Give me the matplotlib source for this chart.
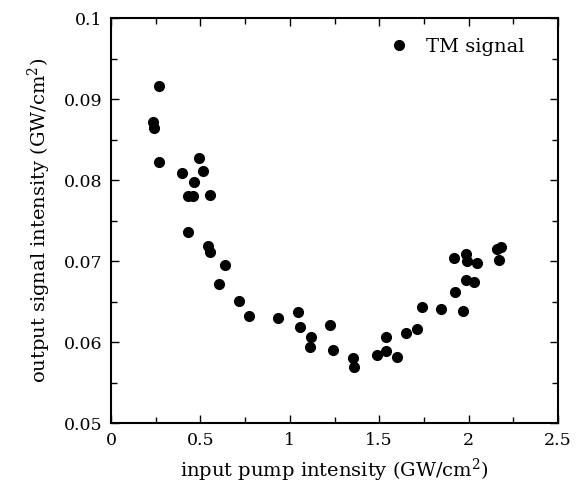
import matplotlib.pyplot as plt
from matplotlib.ticker import MultipleLocator

# TM signal data
pump = [0.270, 0.237, 0.241, 0.270, 0.492, 0.395, 0.513, 0.462, 0.433, 0.459,
        0.554, 0.428, 0.541, 0.554, 0.639, 0.604, 0.718, 0.770, 0.932, 1.046,
        1.055, 1.120, 1.111, 1.223, 1.240, 1.355, 1.359, 1.486, 1.536, 1.536,
        1.601, 1.650, 1.710, 1.737, 1.844, 1.969, 1.924, 1.917, 1.985, 1.989,
        2.047, 1.984, 2.029, 2.157, 2.180, 2.168]
signal = [0.0916, 0.0872, 0.0864, 0.0823, 0.0827, 0.0809, 0.0812, 0.0798, 0.0781, 0.0781,
          0.0782, 0.0736, 0.0719, 0.0712, 0.0695, 0.0672, 0.0651, 0.0632, 0.0630, 0.0637,
          0.0619, 0.0607, 0.0594, 0.0621, 0.0591, 0.0581, 0.0570, 0.0584, 0.0589, 0.0606,
          0.0582, 0.0611, 0.0616, 0.0643, 0.0641, 0.0639, 0.0662, 0.0704, 0.0709, 0.0700,
          0.0698, 0.0677, 0.0674, 0.0715, 0.0718, 0.0701]

xticks = [0, 0.5, 1, 1.5, 2, 2.5]
xticklabels = ['0', '0.5', '1', '1.5', '2', '2.5']
yticks = [0.05, 0.06, 0.07, 0.08, 0.09, 0.1]
yticklabels = ['0.05', '0.06', '0.07', '0.08', '0.09', '0.1']

plt.rcParams['font.family'] = ['DejaVu Serif']
plt.rcParams['mathtext.fontset'] = 'dejavuserif'

fig = plt.figure(figsize=(5.82, 4.93), dpi=100)
ax = fig.add_axes([0.1907, 0.1414, 0.7681, 0.8215])

ax.plot(pump, signal, 'o', color='black', ms=7, label='TM signal')

ax.set_xlim(0, 2.5)
ax.set_ylim(0.05, 0.1)
ax.set_xticks(xticks)
ax.set_xticklabels(xticklabels)
ax.set_yticks(yticks)
ax.set_yticklabels(yticklabels)
ax.xaxis.set_minor_locator(MultipleLocator(0.25))
ax.yaxis.set_minor_locator(MultipleLocator(0.005))
ax.tick_params(which='both', direction='in', top=True, right=True, labelsize=12.5, pad=6)
ax.tick_params(which='major', length=6, width=1)
ax.tick_params(which='minor', length=4, width=1)
for s in ax.spines.values():
    s.set_linewidth(1.5)

ax.set_xlabel('input pump intensity (GW/cm$^2$)', fontsize=14, labelpad=6)
ax.set_ylabel('output signal intensity (GW/cm$^2$)', fontsize=14, labelpad=8)
ax.legend(loc='upper right', bbox_to_anchor=(0.968, 1.0), frameon=False,
          fontsize=14, handletextpad=0.4, borderaxespad=0.6)

fig.savefig('out.png', dpi=100)
